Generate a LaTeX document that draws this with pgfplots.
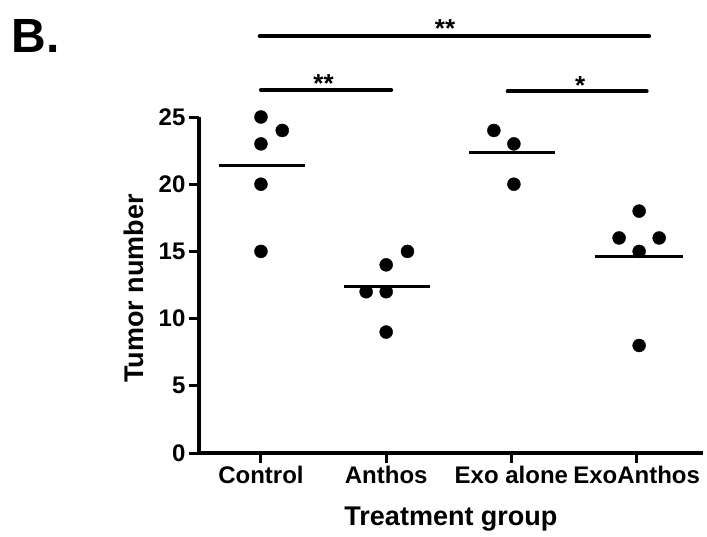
\documentclass[border=0pt]{standalone}
\usepackage{fontspec}
\setmainfont{Liberation Sans}
\usepackage{pgfplots}
\pgfplotsset{compat=1.18}
\begin{document}
\begin{tikzpicture}
\begin{axis}[
  scale only axis, width=504pt, height=336pt,
  xmin=-0.495, xmax=3.53, ymin=0, ymax=25,
  axis x line=bottom, axis y line=left,
  axis line style={-, line width=3.5pt},
  xtick={0,1,2,3}, xticklabels={Control,Anthos,Exo alone,ExoAnthos},
  ytick={0,5,10,15,20,25},
  tick align=outside, major tick length=10pt,
  tick style={line width=3pt, black},
  clip=false,
  /pgf/number format/assume math mode=true,
  tick label style={font=\fontsize{24}{28}\selectfont\bfseries},
  label style={font=\fontsize{27}{32}\selectfont\bfseries},
  xlabel={Treatment group}, ylabel={Tumor number},
  xlabel style={at={(axis description cs:0.5,-0.196)}, anchor=center},
  ylabel style={at={(axis description cs:-0.13,0.49)}, anchor=center},
]
% data points
\addplot[only marks, mark=*, mark size=6.5pt, black] coordinates {
  (0,25) (0.17,24) (0,23) (0,20) (0,15)
  (1.17,15) (1,14) (0.84,12) (1,12) (1,9)
  (1.86,24) (2.02,23) (2.02,20)
  (3.02,18) (2.86,16) (3.18,16) (3.02,15) (3.02,8)
};
% means
\addplot[black, line width=3pt, no marks] coordinates {(-0.335,21.4) (0.35,21.4)};
\addplot[black, line width=3pt, no marks] coordinates {(0.665,12.4) (1.35,12.4)};
\addplot[black, line width=3pt, no marks] coordinates {(1.665,22.33) (2.35,22.33)};
\addplot[black, line width=3pt, no marks] coordinates {(2.665,14.6) (3.37,14.6)};
% significance bars
\draw[line width=4pt, line cap=round] (axis cs:-0.01,31.0) -- (axis cs:3.1,31.0);
\draw[line width=4pt, line cap=round] (axis cs:0,27.0) -- (axis cs:1.04,27.0);
\draw[line width=4pt, line cap=round] (axis cs:1.97,26.9) -- (axis cs:3.08,26.9);
\node[anchor=base, inner sep=0pt, font=\fontsize{26}{30}\selectfont\bfseries] at (axis cs:1.47,30.9) {**};
\node[anchor=base, inner sep=0pt, font=\fontsize{26}{30}\selectfont\bfseries] at (axis cs:0.5,26.8) {**};
\node[anchor=base, inner sep=0pt, font=\fontsize{26}{30}\selectfont\bfseries] at (axis cs:2.55,26.7) {*};
\node[font=\fontsize{48}{54}\selectfont\bfseries] at (axis cs:-1.80,31.0) {B.};
\coordinate (BL) at (axis cs:-2.084,-6.176);
\coordinate (TR) at (axis cs:3.562,33.705);
\end{axis}
\pgfresetboundingbox
\path[use as bounding box] (BL) rectangle (TR);
\end{tikzpicture}
\end{document}
